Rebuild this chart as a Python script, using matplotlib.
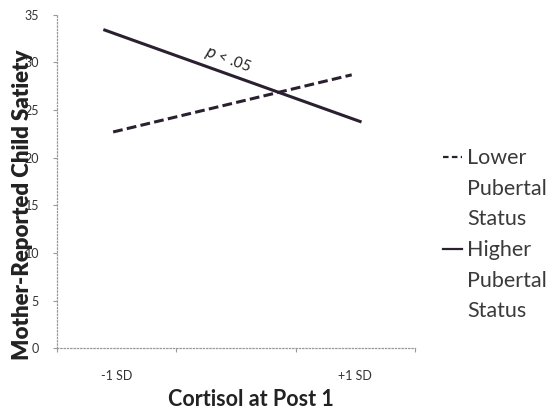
import matplotlib
matplotlib.use("Agg")
import matplotlib.pyplot as plt
from matplotlib.lines import Line2D

plt.rcParams["font.family"] = ["Lato", "DejaVu Sans"]

# ── data ──────────────────────────────────────────────
cat_labels = ["-1 SD", "", "+1 SD"]
lower_x = [0.47, 2.47]
lower_y = [22.7, 28.7]
higher_x = [0.40, 2.54]
higher_y = [33.4, 23.8]
y_ticks = [0, 5, 10, 15, 20, 25, 30, 35]
legend_lines = [["Lower", "Pubertal", "Status"], ["Higher", "Pubertal", "Status"]]

INK = "#2a2030"
TXT = "#333333"

fig = plt.figure(figsize=(5.54, 4.12), dpi=100)
fig.patch.set_facecolor("white")
ax = fig.add_axes([0.103, 0.155, 0.646, 0.809])

ax.plot(lower_x, lower_y, color=INK, lw=2.2, linestyle=(0, (3.2, 1.4)))
ax.plot(higher_x, higher_y, color=INK, lw=2.2)

ax.text(1.43, 30.3, r"$p$ < .05", rotation=-20, fontsize=11,
        ha="center", va="center", color="#222222")

ax.set_xlim(0, 3)
ax.set_ylim(0, 35)
ax.set_yticks(y_ticks)
ax.set_xticks([0, 1, 2, 3])
ax.set_xticklabels([])
ax.set_xticks([0.5, 1.5, 2.5], minor=True)
ax.set_xticklabels(cat_labels, minor=True, fontsize=9, color=TXT)
ax.tick_params(axis="x", which="minor", length=0, pad=16)
ax.tick_params(axis="x", which="major", length=3, color="#999999", direction="out")
ax.tick_params(axis="y", labelsize=9, labelcolor=TXT, length=3, pad=10, color="#999999")

for s in ["top", "right"]:
    ax.spines[s].set_visible(False)
for s in ["left", "bottom"]:
    ax.spines[s].set_linestyle(":")
    ax.spines[s].set_color("#999999")
    ax.spines[s].set_linewidth(0.9)

ax.set_ylabel("Mother-Reported Child Satiety", fontsize=16, fontweight="heavy",
              color="#222222")
ax.yaxis.set_label_coords(-0.068, 0.43)
ax.set_xlabel("Cortisol at Post 1", fontsize=15.5, fontweight="bold", color="#222222")
ax.xaxis.set_label_coords(0.542, -0.122)

# ── legend drawn by hand ──────────────────────────────
lx0, lx1, tx = 0.800, 0.834, 0.843
legend_y = [[158, 189, 219], [250, 281, 311]]
styles = [(0, (2.5, 1.5)), "-"]
for lines, ys, ls in zip(legend_lines, legend_y, styles):
    yf = [(412 - v) / 412 for v in ys]
    fig.add_artist(Line2D([lx0, lx1], [yf[0] + 0.002, yf[0] + 0.002], color=INK,
                          lw=1.6, linestyle=ls, transform=fig.transFigure))
    for word, y in zip(lines, yf):
        fig.text(tx, y, word, fontsize=15.5, color="#3a3a3a", va="center", ha="left")

fig.savefig("out.png", dpi=100, facecolor="white")
